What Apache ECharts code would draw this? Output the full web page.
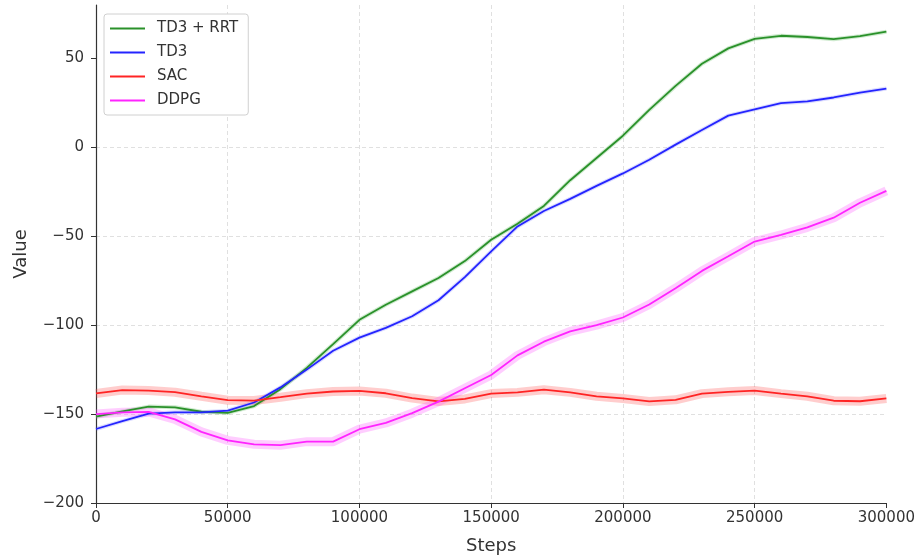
<!DOCTYPE html>
<html>
<head>
<meta charset="utf-8">
<script src="https://cdn.jsdelivr.net/npm/echarts@6/dist/echarts.min.js"></script>
<style>
html,body{margin:0;padding:0;background:#fff;}
#chart{width:918px;height:560px;}
</style>
</head>
<body>
<div id="chart"></div>
<script>
var steps = [0,10000,20000,30000,40000,50000,60000,70000,80000,90000,100000,110000,120000,130000,140000,150000,160000,170000,180000,190000,200000,210000,220000,230000,240000,250000,260000,270000,280000,290000,300000];

var td3rrt = [-151.5,-148.5,-145.8,-146.2,-148.7,-149.3,-145.5,-136,-124,-110.7,-97,-88.5,-81,-73.5,-64,-52,-43,-33,-18.5,-6,6.5,21,34.5,47,55.6,61,62.7,62,60.8,62.5,65];
var td3 = [-158.4,-154,-149.8,-149,-149,-148.1,-143.5,-135,-125,-114.4,-107,-101.5,-95,-86,-73,-58.5,-44.5,-35.8,-29,-21.7,-14.7,-7,1.5,9.7,17.8,21.3,24.8,25.8,28,30.7,33];
var sac = [-138.4,-136.5,-136.8,-137.7,-140,-142.2,-142.4,-140.5,-138.5,-137.3,-137,-138.3,-141,-142.9,-141.5,-138.5,-137.8,-136.3,-137.8,-140,-141.2,-142.9,-142,-138.5,-137.5,-136.8,-138.5,-140,-142.5,-142.8,-141.2];
var ddpg = [-150,-149,-148.8,-153,-160,-164.8,-167,-167.5,-165.5,-165.5,-158.5,-155,-149.5,-143,-135.5,-128,-117,-109.3,-103.5,-100,-95.7,-88.4,-79.2,-69.5,-61.3,-53,-49.3,-45,-39.6,-31.2,-24.5];

var seriesNames = ['TD3 + RRT','TD3','SAC','DDPG'];
var seriesValues = [td3rrt, td3, sac, ddpg];
var lineColors = ['#2a912a','#2424ff','#ff2424','#ff24ff'];
var bandColors = ['rgba(60,170,60,0.25)','rgba(90,90,255,0.22)','rgba(255,90,90,0.3)','rgba(255,90,255,0.3)'];
var bandWidths = [4,4,9,9];
var yTicks = [-200,-150,-100,-50,0,50];

function pairs(vals){ return steps.map(function(s,i){ return [s, vals[i]]; }); }
function fmt(v){ return String(v).replace('-', '\u2212'); }

var series = [];
seriesValues.forEach(function(v,i){
  series.push({
    name: seriesNames[i] + ' band', type:'line', data: pairs(v), symbol:'none',
    silent:true, lineStyle:{color:bandColors[i], width:bandWidths[i]}, z:1
  });
});
seriesValues.forEach(function(v,i){
  series.push({
    name: seriesNames[i], type:'line', data: pairs(v), symbol:'none',
    color: lineColors[i],
    lineStyle:{color:lineColors[i], width:1.8}, z:2
  });
});

var chart = echarts.init(document.getElementById('chart'), null, {renderer:'canvas'});
chart.setOption({
  animation:false,
  backgroundColor:'#ffffff',
  textStyle:{fontFamily:'DejaVu Sans'},
  grid:{left:96, right:31, top:5, bottom:56, containLabel:false},
  legend:{
    data: seriesNames.map(function(n){ return {name:n, icon:'rect'}; }),
    orient:'vertical', left:104, top:14,
    itemWidth:35, itemHeight:2, itemGap:9,
    padding:[7,10,7,6],
    backgroundColor:'#ffffff', borderColor:'#d0d0d0', borderWidth:1, borderRadius:3,
    textStyle:{fontFamily:'DejaVu Sans', fontSize:15, color:'#333', padding:[0,0,0,7]}
  },
  xAxis:{
    type:'value', min:0, max:300000, interval:50000,
    name:'Steps', nameLocation:'middle', nameGap:34,
    nameTextStyle:{fontFamily:'DejaVu Sans', fontSize:18, color:'#333'},
    axisLine:{show:true, onZero:false, lineStyle:{color:'#333', width:1.2}},
    axisTick:{show:true, inside:false, length:5, lineStyle:{color:'#333'}},
    axisLabel:{fontFamily:'DejaVu Sans', fontSize:15, color:'#333', margin:8, formatter:function(v){ return fmt(v); }},
    splitLine:{show:true, showMinLine:false, showMaxLine:false, lineStyle:{color:'#d8d8d8', type:[4,3], width:0.8}}
  },
  yAxis:{
    type:'value', min:-200, max:80, interval:50,
    name:'Value', nameLocation:'middle', nameGap:66, nameRotate:90,
    nameTextStyle:{fontFamily:'DejaVu Sans', fontSize:18, color:'#333'},
    axisLine:{show:true, onZero:false, lineStyle:{color:'#333', width:1.2}},
    axisTick:{show:true, inside:false, length:5, lineStyle:{color:'#333'}, customValues:yTicks},
    axisLabel:{fontFamily:'DejaVu Sans', fontSize:15, color:'#333', margin:12, customValues:yTicks, formatter:function(v){ return fmt(v); }},
    splitLine:{show:true, showMinLine:false, showMaxLine:false, lineStyle:{color:'#d8d8d8', type:[4,3], width:0.8}}
  },
  series: series
});
</script>
</body>
</html>
